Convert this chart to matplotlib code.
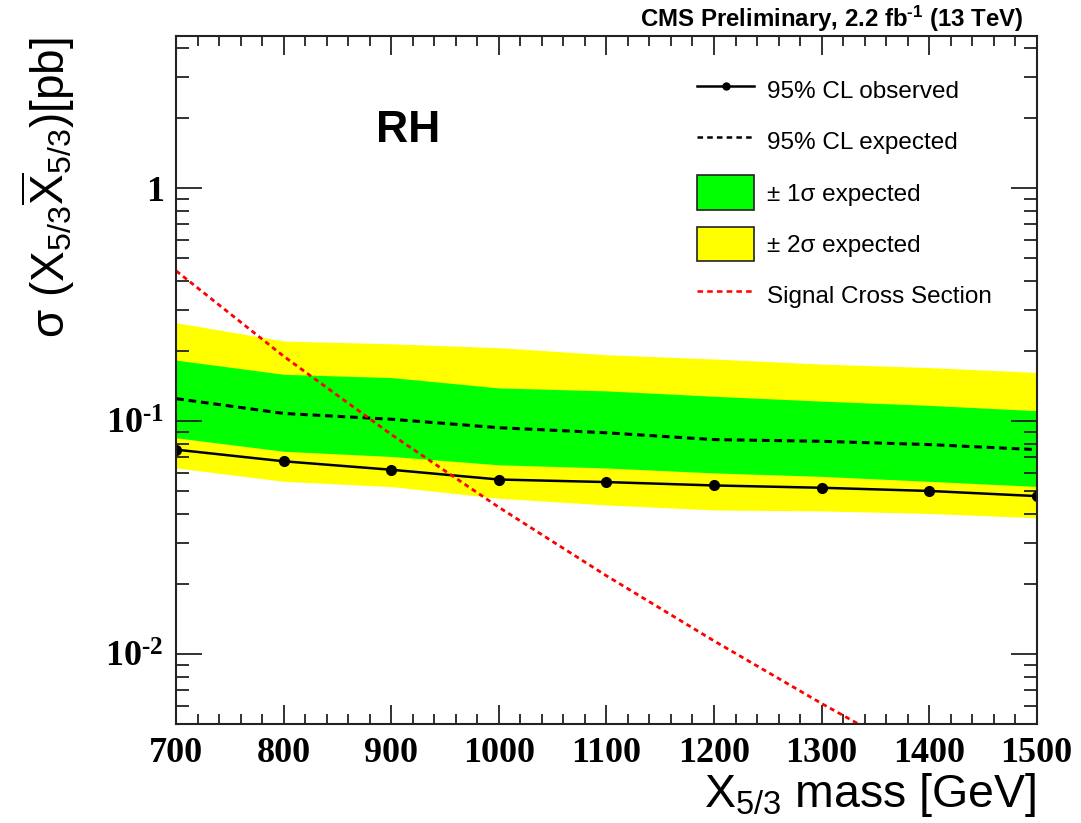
import numpy as np
import matplotlib
matplotlib.use('Agg')
import matplotlib.pyplot as plt
from matplotlib.ticker import FixedLocator, MultipleLocator, LogLocator, NullFormatter, FuncFormatter
from matplotlib.patches import Patch
from matplotlib.lines import Line2D

plt.rcParams['font.family'] = ['Liberation Sans', 'DejaVu Sans']
plt.rcParams['mathtext.default'] = 'regular'
plt.rcParams['lines.scale_dashes'] = False

# masses [GeV]
mass = [700, 800, 900, 1000, 1100, 1200, 1300, 1400, 1500]

# limits [pb]
observed = [0.0755, 0.0673, 0.0619, 0.0562, 0.0548, 0.0530, 0.0518, 0.0502, 0.0477]
expected = [0.125, 0.108, 0.102, 0.0938, 0.0892, 0.0834, 0.0820, 0.0794, 0.0755]
exp_p1 = [0.183, 0.159, 0.154, 0.139, 0.135, 0.128, 0.122, 0.117, 0.111]
exp_m1 = [0.0849, 0.0743, 0.0706, 0.0650, 0.0630, 0.0600, 0.0580, 0.0552, 0.0525]
exp_p2 = [0.265, 0.221, 0.215, 0.207, 0.193, 0.185, 0.176, 0.170, 0.162]
exp_m2 = [0.0630, 0.0552, 0.0524, 0.0467, 0.0437, 0.0416, 0.0412, 0.0402, 0.0385]
signal_xsec = [0.442, 0.190, 0.0877, 0.0427, 0.0217, 0.0114, 0.00614, 0.00340, 0.00192]

fig = plt.figure(figsize=(10.81, 8.23), dpi=100)
ax = fig.add_axes([0.163, 0.120, 0.796, 0.836])

ax.fill_between(mass, exp_m2, exp_p2, color='#ffff00', lw=0)
ax.fill_between(mass, exp_m1, exp_p1, color='#00ff00', lw=0)
ax.plot(mass, expected, color='black', lw=2.2, dashes=(5.5, 3.5))
ax.plot(mass, observed, color='black', lw=1.8, marker='o', ms=7)
ax.plot(mass, signal_xsec, color='#ff0000', lw=2.0, dashes=(3.5, 2.8))

ax.set_yscale('log')
ax.set_xlim(700, 1500)
ax.set_ylim(0.005, 4.5)

ax.xaxis.set_major_locator(MultipleLocator(100))
ax.xaxis.set_minor_locator(MultipleLocator(20))
ax.yaxis.set_major_locator(FixedLocator([0.01, 0.1, 1]))
ax.yaxis.set_minor_locator(LogLocator(base=10, subs=np.arange(2, 10)))
ax.yaxis.set_minor_formatter(NullFormatter())
ylabels = {0.01: '10$^{\u20102}$', 0.1: '10$^{\u20101}$', 1: '1'}
ax.yaxis.set_major_formatter(FuncFormatter(lambda v, p: ylabels.get(round(v, 3), '')))

ax.tick_params(which='both', direction='in', top=True, right=True, width=1.3, colors='#222222')
ax.tick_params(axis='x', which='major', length=14, pad=9)
ax.tick_params(axis='x', which='minor', length=7)
ax.tick_params(axis='y', which='major', length=19, pad=9)
ax.tick_params(axis='y', which='minor', length=9.5)
for lab in ax.get_xticklabels() + ax.get_yticklabels():
    lab.set_fontfamily('Liberation Serif')
    lab.set_fontweight('bold')
    lab.set_fontsize(26)
    lab.set_color('black')
for s in ax.spines.values():
    s.set_linewidth(1.5)
    s.set_color('#222222')

fig.text(48 / 1081, 1 - 37 / 823, 'σ (X$_{5/3}$$\\overline{X}_{5/3}$)[pb]',
         rotation=90, ha='center', va='top', fontsize=33)
ax.set_xlabel('X$_{5/3}$ mass [GeV]', fontsize=33.5, loc='right', labelpad=1)
fig.text(1023 / 1081, 1 - 27 / 823, 'CMS Preliminary, 2.2 fb$^{\u20101}$ (13 TeV)',
         ha='right', va='baseline', fontsize=17.3, fontweight='bold')
ax.text(0.27, 0.863, 'RH', transform=ax.transAxes, ha='center', va='center',
        fontsize=32, fontweight='bold')

handles = [
    Line2D([], [], color='black', lw=1.8, marker='o', ms=5),
    Line2D([], [], color='black', lw=1.8, dashes=(4, 3)),
    Patch(facecolor='#00ff00', edgecolor='#222222', lw=1.2),
    Patch(facecolor='#ffff00', edgecolor='#222222', lw=1.2),
    Line2D([], [], color='#ff0000', lw=1.8, dashes=(4, 3)),
]
labels = ['95% CL observed', '95% CL expected', '± 1σ expected',
          '± 2σ expected', 'Signal Cross Section']
fig.legend(handles, labels, loc='upper left', bbox_to_anchor=(697 / 1081, 1 - 73 / 823),
           frameon=False, fontsize=17.5, handlelength=2.35, handleheight=1.82,
           handletextpad=0.55, labelspacing=0.68, borderpad=0, borderaxespad=0)

fig.savefig('out.png', dpi=100)
